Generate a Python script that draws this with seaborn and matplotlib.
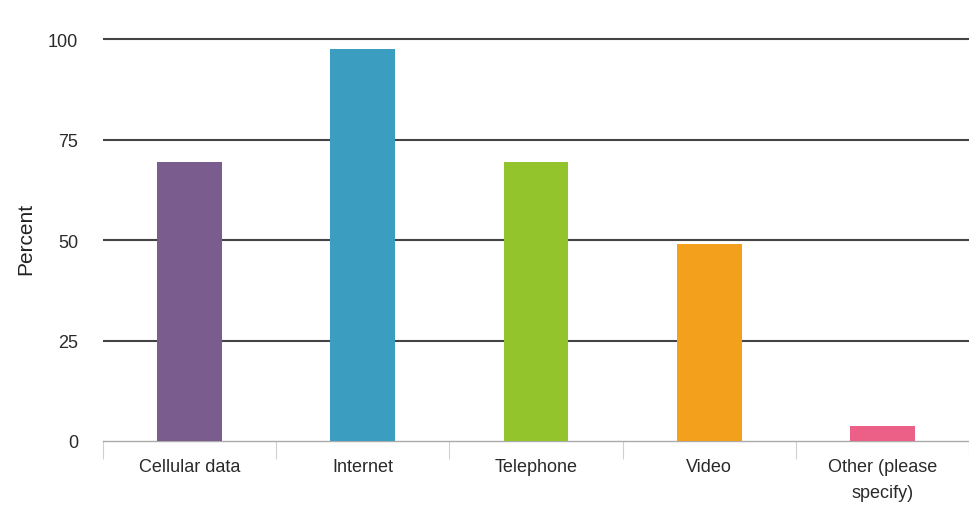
import matplotlib
matplotlib.use("Agg")
import matplotlib.pyplot as plt
import seaborn as sns
import pandas as pd
import numpy as np

# данные
categories = ["Cellular data", "Internet", "Telephone", "Video", "Other (please\nspecify)"]
percent = [69.5, 97.5, 69.5, 49.0, 3.8]
bar_colors = ["#7a5c8e", "#3b9ec1", "#93c42b", "#f3a01d", "#ec5f86"]
y_ticks = [0, 25, 50, 75, 100]

sns.set_style("white")
plt.rcParams["font.family"] = ["Liberation Sans", "DejaVu Sans"]

df = pd.DataFrame({"Category": categories, "Percent": percent})

fig = plt.figure(figsize=(9.69, 5.06), dpi=100)
ax = fig.add_axes([103 / 969, 1 - 442 / 506, 1 - 103 / 969, 406 / 506])

sns.barplot(data=df, x="Category", y="Percent", hue="Category",
            palette=bar_colors, width=0.375, legend=False, ax=ax, zorder=3,
            saturation=1, linewidth=0)

ax.set_ylim(0, 101)
ax.set_xlim(-0.5, len(categories) - 0.5)
ax.set_yticks(y_ticks)
for y in y_ticks[1:]:
    ax.axhline(y, color="#444444", lw=1.5, zorder=1)

for side in ["top", "right", "left"]:
    ax.spines[side].set_visible(False)
ax.spines["bottom"].set_color("#aaaaaa")
ax.spines["bottom"].set_linewidth(1.0)

# разделители категорий под осью
ax.set_xticks(np.arange(-0.5, len(categories)), minor=True)
ax.tick_params(axis="x", which="minor", bottom=True, length=13, width=0.8,
               color="#d0d0d0", direction="out")
ax.tick_params(axis="x", which="major", length=0, pad=12, labelsize=13, labelcolor="#2a2a2a")
ax.tick_params(axis="y", length=0, pad=18, labelsize=13, labelcolor="#2a2a2a")
for lbl in ax.get_xticklabels():
    lbl.set_linespacing(1.7)

ax.set_xlabel("")
ax.set_ylabel("Percent", fontsize=15, color="#222222", labelpad=9)

fig.savefig("out.png", dpi=100)
